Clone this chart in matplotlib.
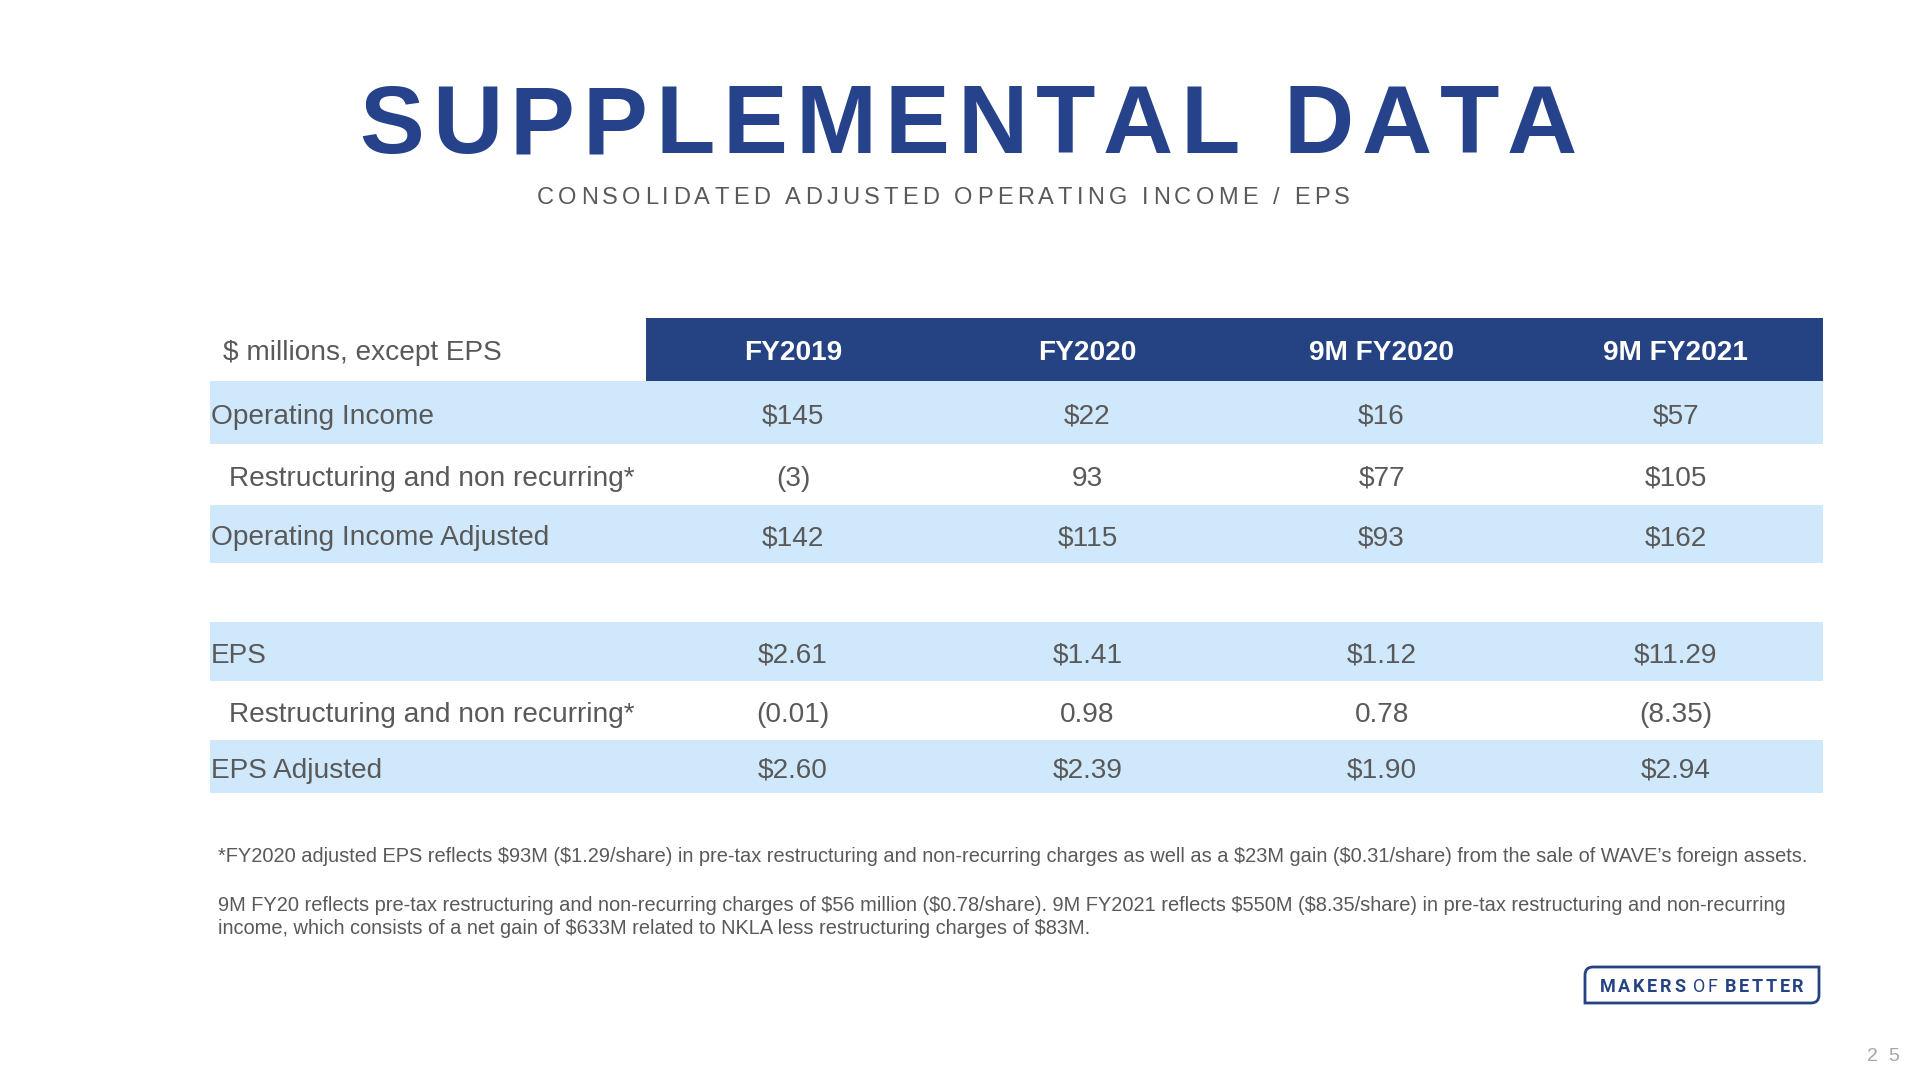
import matplotlib
matplotlib.use("Agg")
import matplotlib.pyplot as plt
from matplotlib import font_manager
from matplotlib.font_manager import FontProperties
from matplotlib.ft2font import FT2Font
from matplotlib.patches import Rectangle, PathPatch
from matplotlib.path import Path

plt.rcParams['font.family'] = ['Liberation Sans', 'DejaVu Sans']
plt.rcParams['text.parse_math'] = False

DPI = 100
BLUE = "#25428A"
HEAD = "#254282"
BAND = "#D0E8FC"
GREY = "#595959"

# --- data ---
columns = ["FY2019", "FY2020", "9M FY2020", "9M FY2021"]
row_labels = ["Operating Income", "Restructuring and non recurring*", "Operating Income Adjusted",
              "", "EPS", "Restructuring and non recurring*", "EPS Adjusted"]
row_values = [
    ["$145", "$22", "$16", "$57"],
    ["(3)", "93", "$77", "$105"],
    ["$142", "$115", "$93", "$162"],
    ["", "", "", ""],
    ["$2.61", "$1.41", "$1.12", "$11.29"],
    ["(0.01)", "0.98", "0.78", "(8.35)"],
    ["$2.60", "$2.39", "$1.90", "$2.94"],
]
indented = [False, True, False, False, False, True, False]
shaded = [True, False, True, False, True, False, True]
footnotes = [
    "*FY2020 adjusted EPS reflects $93M ($1.29/share) in pre-tax restructuring and non-recurring charges as well as a $23M gain ($0.31/share) from the sale of WAVE\u2019s foreign assets.",
    "9M FY20 reflects pre-tax restructuring and non-recurring charges of $56 million ($0.78/share). 9M FY2021 reflects $550M ($8.35/share) in pre-tax restructuring and non-recurring",
    "income, which consists of a net gain of $633M related to NKLA less restructuring charges of $83M.",
]


def advances(s, fp, size):
    f = FT2Font(font_manager.findfont(fp))
    f.set_size(size, DPI)
    out = []
    for ch in s:
        g = f.load_char(ord(ch))
        out.append(g.linearHoriAdvance / 65536)
    return out


def spaced_text(ax, x, y, s, fp, size, color, tracking=None, width=None):
    adv = advances(s, fp, size)
    if tracking is None:
        tracking = (width - sum(adv)) / (len(s) - 1)
    for ch, a in zip(s, adv):
        ax.text(x, y, ch, fontproperties=fp, fontsize=size, color=color,
                ha="left", va="baseline")
        x += a + tracking
    return x


fig = plt.figure(figsize=(19.2, 10.8), dpi=DPI)
ax = fig.add_axes([0, 0, 1, 1])
ax.set_xlim(0, 1920)
ax.set_ylim(1080, 0)
ax.axis("off")

bold = FontProperties(family="Liberation Sans", weight="bold")
reg = FontProperties(family="Liberation Sans")

# title + subtitle
spaced_text(ax, 359, 153, "SUPPLEMENTAL DATA", bold, 70, BLUE, width=1218)
spaced_text(ax, 537, 204, "CONSOLIDATED ADJUSTED OPERATING INCOME / EPS", reg, 17, GREY, width=813)

# table geometry
FS = 20.2
x_left, x_head, x_right = 210, 646, 1823
head_top, head_bot = 318, 381
row_edges = [381, 444, 505, 563, 622, 681, 740, 793]
col_w = (x_right - x_head) / len(columns)
col_cx = [x_head + col_w * (i + 0.5) for i in range(len(columns))]
cap = 0.716 * FS * DPI / 72

ax.add_patch(Rectangle((x_head, head_top), x_right - x_head, head_bot - head_top,
                       facecolor=HEAD, edgecolor="none"))
hy = (head_top + head_bot) / 2 + cap / 2
ax.text(223, hy, "$ millions, except EPS", fontsize=FS, color=GREY, ha="left", va="baseline")
for cx, c in zip(col_cx, columns):
    ax.text(cx, hy, c, fontsize=FS, fontweight="bold", color="white", ha="center", va="baseline")

for i, (lab, vals) in enumerate(zip(row_labels, row_values)):
    top, bot = row_edges[i], row_edges[i + 1]
    if shaded[i]:
        ax.add_patch(Rectangle((x_left, top), x_right - x_left, bot - top,
                               facecolor=BAND, edgecolor="none"))
    y = (top + bot) / 2 + cap / 2 + 1
    ax.text(229 if indented[i] else 211, y, lab, fontsize=FS, color=GREY, ha="left", va="baseline")
    for cx, v in zip(col_cx, vals):
        ax.text(cx, y, v, fontsize=FS, color=GREY, ha="center", va="baseline")

# footnotes
for s, y in zip(footnotes, [862, 911, 934]):
    ax.text(218, y, s, fontsize=14.4, color=GREY, ha="left", va="baseline")

# logo box with two rounded corners
x0, x1, y0, y1, r = 1585, 1819, 967, 1003, 8
verts = [(x0, y0 + r), (x0, y0), (x0 + r, y0), (x1, y0), (x1, y1 - r), (x1, y1), (x1 - r, y1),
         (x0, y1), (x0, y0 + r)]
codes = [Path.MOVETO, Path.CURVE3, Path.CURVE3, Path.LINETO, Path.LINETO, Path.CURVE3, Path.CURVE3,
         Path.LINETO, Path.CLOSEPOLY]
ax.add_patch(PathPatch(Path(verts, codes), facecolor="none", edgecolor=HEAD, linewidth=2))
lb = FontProperties(family="Roboto", weight="bold")
ll = FontProperties(family="Roboto", weight="normal")
xx = spaced_text(ax, 1600, 992, "MAKERS", lb, 13, HEAD, tracking=2.6)
xx = spaced_text(ax, xx + 5, 992, "OF", ll, 13, HEAD, tracking=2.6)
spaced_text(ax, xx + 5, 992, "BETTER", lb, 13, HEAD, tracking=2.6)

# page number
spaced_text(ax, 1867, 1061, "25", reg, 14, "#A6A6A6", tracking=10)

fig.savefig("out.png", dpi=DPI)
